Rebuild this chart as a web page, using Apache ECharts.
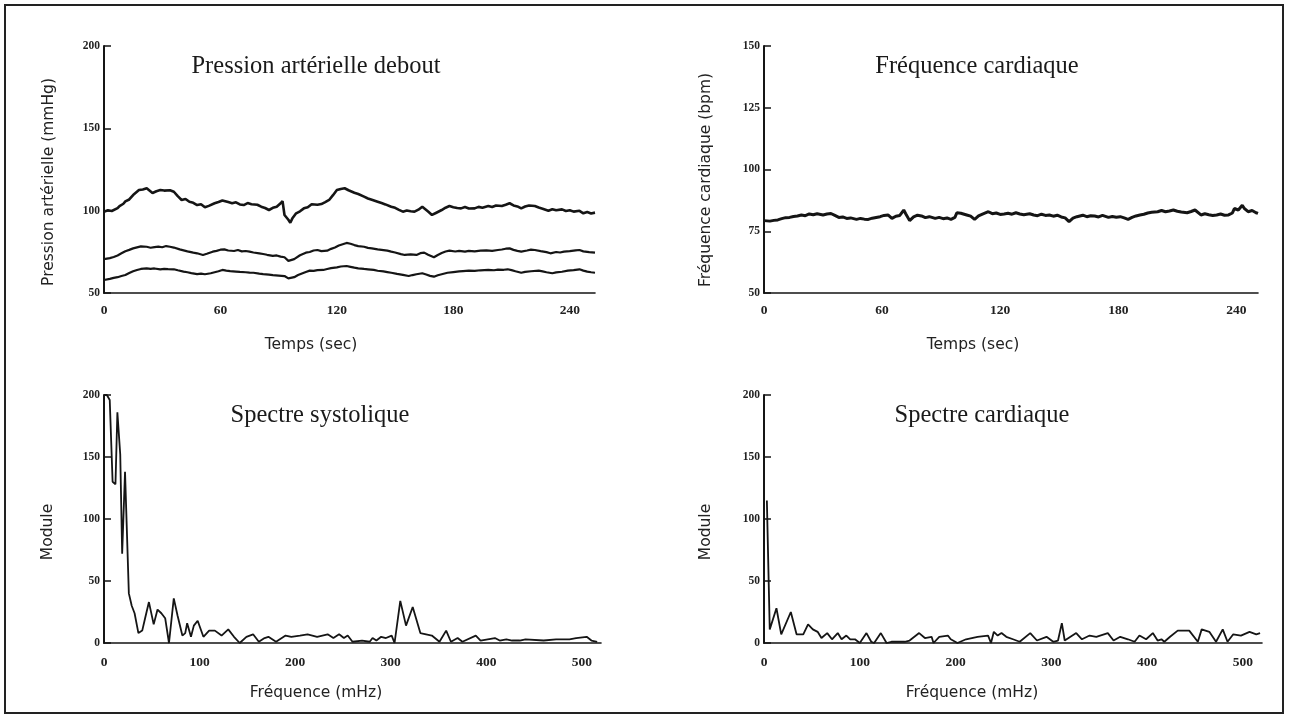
<!DOCTYPE html>
<html>
<head>
<meta charset="utf-8">
<script src="https://cdn.jsdelivr.net/npm/echarts@6/dist/echarts.min.js"></script>
<style>
html,body{margin:0;padding:0;background:#fff;}
#chart{width:1289px;height:718px;}
</style>
</head>
<body>
<div id="chart"></div>
<script>
// ---- Titles and axis names ----
const panelTitles = ['Pression artérielle debout', 'Fréquence cardiaque', 'Spectre systolique', 'Spectre cardiaque'];
const yNames = ['Pression artérielle (mmHg)', 'Fréquence cardiaque (bpm)', 'Module', 'Module'];
const xNames = ['Temps (sec)', 'Temps (sec)', 'Fréquence (mHz)', 'Fréquence (mHz)'];

// ---- Top-left: arterial pressure (time s, mmHg) ----
const systolic = [[0,99.4],[2,100.2],[4,99.8],[5,100.8],[7,101.5],[8,102.8],[10,104.2],[11,105.6],[13,106.8],[15,109.5],[16,110.2],[18,112.5],[20,112.9],[22,113.6],[23,112.6],[25,110.7],[27,111.8],[29,112.5],[31,112.2],[32,113.2],[34,112.4],[36,111.5],[38,108.8],[40,106.5],[42,107.1],[44,105.4],[46,104.8],[48,103.4],[50,103.9],[52,102.1],[54,102.9],[55,103.8],[57,104.5],[59,105.3],[61,106.2],[62,106.9],[64,105.2],[66,104.5],[68,105.1],[70,103.8],[72,103.4],[74,104.6],[76,103.9],[77,104.8],[79,103.6],[81,102.4],[83,101.6],[85,100.4],[87,101.7],[89,102.4],[91,104.5],[92,105.8],[93,97.4],[95,94.5],[96,92.7],[97,95.2],[99,98.4],[101,99.6],[103,101.4],[105,102.1],[107,103.9],[108,104.5],[110,103.6],[112,104],[114,105.2],[116,106.5],[118,109.4],[120,112.5],[122,113.2],[124,113.6],[126,112.4],[129,110.9],[131,110.1],[134,108.5],[136,107.4],[138,106.6],[141,105.4],[143,104.6],[145,103.8],[148,102.4],[150,101.7],[152,100.5],[154,99.4],[156,100.1],[158,99.6],[160,99.4],[162,100.6],[164,102.4],[165,103.1],[167,99.5],[169,97.4],[171,98.6],[174,100.4],[176,101.8],[178,102.8],[180,102.1],[182,101.6],[184,101.4],[186,102.2],[188,101.3],[191,101.4],[193,102.3],[195,101.8],[198,102.8],[200,102.2],[202,103.1],[205,102.8],[207,103.6],[209,104.5],[211,103.2],[213,102.6],[215,101.4],[217,102.5],[219,103.1],[222,102.8],[224,101.9],[226,101.2],[229,100],[231,100.9],[233,100.2],[236,100.8],[238,99.8],[240,100.3],[242,99.4],[245,99.9],[247,98.4],[249,99.2],[251,98.3],[253,98.8]];
const meanPressure = [[0,70.6],[1,70.4],[3,71.2],[5,71.9],[7,72.8],[9,74.1],[11,75.4],[13,76.2],[15,77.1],[17,77.7],[19,78.3],[20,78.5],[22,78.1],[24,77.5],[26,77.9],[28,78.2],[30,77.8],[32,78.5],[34,78.1],[36,77.6],[39,76.5],[41,75.9],[43,75.3],[46,74.5],[48,74.1],[51,73.1],[53,73.8],[56,75.1],[58,75.6],[60,76.3],[62,76.5],[64,75.8],[67,75.5],[69,76.1],[71,75.3],[73,75.5],[75,75.1],[77,74.6],[80,74.1],[82,73.7],[84,73.2],[87,72.5],[89,72.8],[91,72.1],[93,71.7],[95,69.5],[96,68.4],[98,70.6],[99,71.7],[101,72.9],[104,74.5],[106,74.9],[108,75.8],[110,76.1],[112,75.4],[115,75.7],[117,76.8],[119,77.6],[121,78.8],[123,79.6],[125,80.4],[127,79.9],[129,79.1],[131,78.5],[134,78.1],[136,77.4],[138,77.1],[141,76.5],[143,76.2],[146,75.7],[148,75.1],[150,74.6],[153,73.6],[155,73.1],[158,73.5],[161,73.1],[163,74.2],[165,74.5],[167,73.2],[170,71.7],[172,73.1],[174,74.3],[176,75.2],[178,75.7],[181,75.2],[183,75.6],[186,75.1],[188,75.6],[191,75.3],[194,75.7],[197,75.9],[200,75.6],[203,76.1],[205,76.4],[207,76.9],[209,77.1],[211,76.2],[213,75.6],[215,75.1],[218,75.8],[220,76.3],[222,76.1],[225,75.4],[228,74.8],[230,74.1],[233,74.9],[235,74.6],[237,75.1],[240,75.4],[243,75.9],[245,76.1],[247,75.3],[250,74.8],[253,74.5]];
const diastolic = [[0,57.9],[1,57.9],[3,58.6],[5,59.2],[7,59.6],[9,60.3],[11,60.9],[13,62.1],[15,63.2],[17,64],[19,64.6],[22,65],[24,64.7],[26,64.9],[29,64.4],[31,64.7],[33,64.5],[36,64.4],[38,63.8],[41,63],[43,62.6],[45,62.1],[48,61.5],[50,61.8],[52,61.4],[55,62],[57,62.6],[59,63.2],[61,64],[63,63.6],[65,63.3],[68,63],[70,62.8],[73,62.6],[75,62.4],[77,62.3],[80,61.8],[82,61.5],[85,61.2],[87,60.9],[90,60.6],[93,60.3],[95,58.9],[96,57.9],[98,59.6],[100,60.9],[102,61.9],[104,62.8],[106,63.6],[108,63.4],[110,63.9],[113,64],[115,64.6],[117,65.1],[120,65.6],[122,66.1],[125,66.4],[127,65.9],[129,65.4],[131,65],[134,64.6],[136,64.4],[139,64],[141,63.5],[144,63.1],[146,62.7],[148,62.3],[151,61.6],[154,61],[157,60.3],[159,60.9],[161,61.4],[164,62],[166,61.2],[168,60.4],[170,59.9],[172,60.8],[175,61.7],[177,62.3],[180,62.7],[183,63.1],[185,63.3],[188,63.6],[191,63.4],[194,63.8],[196,63.9],[198,64],[201,63.8],[203,64.2],[206,64.1],[208,64.4],[210,63.9],[212,63.2],[215,62.3],[217,62.8],[220,63.2],[224,63.6],[226,63.1],[228,62.6],[231,62],[233,62.5],[236,62.9],[239,63.6],[242,63.9],[245,64.4],[247,63.6],[249,63],[251,62.6],[253,62.3]];

// ---- Top-right: heart rate (time s, bpm) ----
const heartRate = [[0,79.3],[1,79.5],[3,79.1],[5,79.4],[7,79.6],[9,80.1],[11,80.5],[13,80.6],[15,81],[17,81.2],[19,81.6],[21,81.3],[23,82],[25,81.7],[27,82.1],[30,81.6],[32,82],[34,82.2],[35,82.8],[36,81.4],[38,80.6],[40,80.8],[42,80.2],[44,80.4],[47,79.8],[49,80.2],[51,79.9],[53,79.8],[55,80.3],[57,80.6],[59,80.9],[61,81.4],[63,81.6],[64,82.3],[65,80.2],[67,81.1],[69,81.4],[71,83.6],[72,82.1],[74,79.3],[76,80.8],[78,81.5],[80,81.2],[82,80.5],[84,80.9],[87,80.2],[89,80.6],[91,80.1],[93,80.4],[95,79.8],[97,80.6],[98,82.5],[100,82.3],[101,82],[103,81.6],[105,81.1],[107,79.8],[109,81.2],[111,81.9],[114,82.9],[116,82.1],[118,82.4],[120,81.8],[122,82],[124,82.3],[126,81.9],[128,82.5],[130,82],[132,81.7],[135,82.1],[137,81.6],[139,81.3],[141,81.9],[143,81.4],[145,81.6],[147,81.1],[149,81.5],[151,80.8],[153,80.4],[154,80.2],[155,78.9],[157,80.3],[159,80.9],[160,81.2],[162,81.5],[164,80.9],[166,81.3],[168,81.2],[170,80.8],[172,81.4],[175,80.6],[177,81],[179,80.7],[181,80.9],[183,80.4],[185,79.8],[187,80.6],[189,81.2],[191,81.6],[193,81.9],[195,82.4],[197,82.7],[198,83.3],[200,82.9],[202,83.4],[204,82.9],[206,83.2],[208,83.6],[210,83.1],[212,82.8],[215,82.5],[217,83],[219,83.6],[220,82.9],[222,81.6],[224,82.1],[226,81.7],[228,81.4],[230,81.6],[232,82],[234,81.5],[236,81.6],[238,82.4],[239,84.2],[241,83.6],[243,85.5],[244,84.3],[246,82.9],[248,83.4],[250,82.5],[251,82.2]];

// ---- Bottom-left: systolic spectrum (mHz, module) ----
const systolicSpectrum = [[0,200],[3,200],[6,196],[9,130],[12,128],[14,186],[17,152],[19,72],[22,138],[26,40],[29,30],[32,24],[36,8],[40,10],[43,20],[47,33],[52,15],[56,27],[60,24],[64,20],[68,0],[73,36],[77,22],[82,6],[85,8],[87,16],[91,5],[94,14],[98,18],[104,5],[110,10],[116,10],[123,6],[130,11],[136,5],[142,0],[149,5],[156,7],[162,1],[168,4],[172,5],[180,1],[190,6],[196,5],[205,6],[213,7],[223,5],[234,7],[240,4],[246,7],[251,4],[255,6],[260,1],[270,2],[278,1],[281,4],[285,2],[290,5],[295,4],[301,6],[304,0],[310,34],[316,14],[323,29],[331,8],[343,6],[351,1],[358,10],[363,1],[370,4],[375,1],[389,6],[394,2],[409,4],[414,2],[421,3],[427,2],[435,2],[441,3],[460,2],[473,3],[487,3],[494,4],[505,5],[510,2],[516,1]];

// ---- Bottom-right: heart-rate spectrum (mHz, module) ----
const cardiacSpectrum = [[3,115],[6,11],[13,28],[18,7],[28,25],[34,7],[41,7],[46,15],[51,11],[56,9],[60,4],[66,8],[71,3],[77,8],[81,3],[86,6],[90,3],[95,3],[100,0],[107,8],[112,1],[115,0],[122,8],[128,0],[133,1],[147,1],[152,2],[162,8],[168,4],[175,5],[177,0],[183,5],[192,6],[195,3],[202,0],[211,3],[223,5],[234,6],[237,0],[240,9],[244,6],[248,8],[253,5],[260,3],[267,1],[278,8],[285,2],[295,5],[302,1],[307,2],[311,16],[314,2],[326,8],[332,3],[340,6],[347,5],[359,8],[365,2],[372,5],[380,3],[387,1],[392,6],[399,3],[406,8],[411,2],[415,3],[418,1],[424,5],[432,10],[444,10],[453,1],[457,11],[465,9],[472,1],[479,11],[484,1],[490,7],[498,6],[507,9],[514,7],[518,8]];

// ---- Axis ranges / ticks ----
const yRanges = [[50,200,50],[50,150,25],[0,200,50],[0,200,50]];
const xRanges = [[0,253,60],[0,251,60],[0,520,100],[0,520,100]];

const grids = [
  {left:104, top:46, width:491, height:247},
  {left:764, top:46, width:494, height:247},
  {left:104, top:395, width:497, height:248},
  {left:764, top:395, width:498, height:248}
];

const ink = '#151515';
const serif = 'Liberation Serif';
const sans = 'DejaVu Sans';

const xAxes = xRanges.map((r, i) => ({
  type:'value', gridIndex:i, min:r[0], max:r[1], interval:r[2],
  axisLine:{show:true, onZero:false, lineStyle:{color:ink, width:1.6}},
  axisTick:{show:false},
  splitLine:{show:false},
  axisLabel:{showMaxLabel:false, margin: i < 2 ? 11 : 13, color:'#222', fontFamily:serif, fontSize:13.5, fontWeight:'bold'}
}));
const yAxes = yRanges.map((r, i) => ({
  type:'value', gridIndex:i, min:r[0], max:r[1], interval:r[2],
  axisLine:{show:true, onZero:false, lineStyle:{color:ink, width:2}},
  axisTick:{show:true, inside:true, length:7, lineStyle:{color:ink, width:1.5}},
  splitLine:{show:false},
  axisLabel:{margin:4, color:'#222', fontFamily:serif, fontSize:11.5, fontWeight:'bold'}
}));

function line(data, xi, w) {
  return {type:'line', xAxisIndex:xi, yAxisIndex:xi, data:data, showSymbol:false, symbol:'none',
    lineStyle:{color:ink, width:w}, itemStyle:{color:ink}, animation:false, silent:true};
}

const titleCenters = [[311,49],[972,49],[315,398],[977,398]];
const xNamePos = [[311,345],[973,345],[316,693],[972,693]];
const yNamePos = [[49,182],[706,180],[48,532],[706,532]];

const graphics = [
  {type:'rect', shape:{x:5, y:5, width:1278, height:708}, style:{fill:'none', stroke:'#222', lineWidth:2}, silent:true}
];
xNames.forEach((t, i) => graphics.push({type:'text', x:xNamePos[i][0], y:xNamePos[i][1],
  style:{text:t, fill:'#222', fontFamily:sans, fontSize:15.5, align:'center', verticalAlign:'middle', textAlign:'center', textVerticalAlign:'middle'}}));
yNames.forEach((t, i) => graphics.push({type:'text', x:yNamePos[i][0], y:yNamePos[i][1], rotation:Math.PI/2,
  style:{text:t, fill:'#222', fontFamily:sans, fontSize:15.5, align:'center', verticalAlign:'middle', textAlign:'center', textVerticalAlign:'middle'}}));

const option = {
  backgroundColor:'#ffffff',
  animation:false,
  title: panelTitles.map((t, i) => ({text:t, left:titleCenters[i][0], top:titleCenters[i][1], textAlign:'center',
    textStyle:{fontFamily:serif, fontSize:24.5, fontWeight:'normal', color:'#1a1a1a'}})),
  grid: grids,
  xAxis: xAxes,
  yAxis: yAxes,
  graphic: graphics,
  series: [
    line(systolic, 0, 2.6),
    line(meanPressure, 0, 2.2),
    line(diastolic, 0, 2.2),
    line(heartRate, 1, 3),
    line(systolicSpectrum, 2, 1.8),
    line(cardiacSpectrum, 3, 1.8)
  ]
};

const chart = echarts.init(document.getElementById('chart'), null, {renderer:'canvas'});
chart.setOption(option);
</script>
</body>
</html>
